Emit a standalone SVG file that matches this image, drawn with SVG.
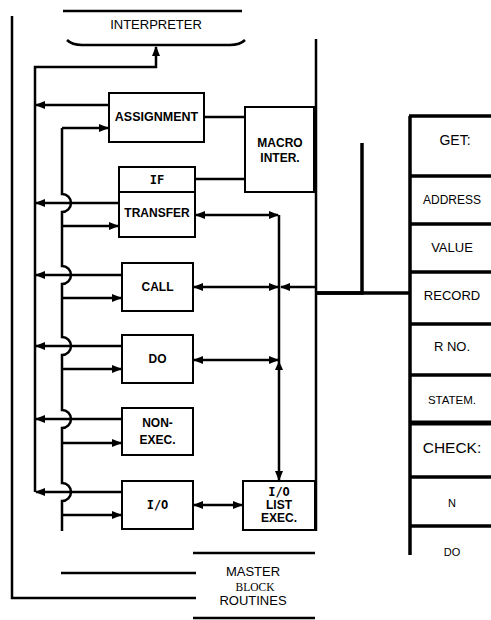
<svg xmlns="http://www.w3.org/2000/svg" width="491" height="620" viewBox="0 0 491 620">
<style>
.ln{fill:none;stroke:#000;stroke-width:2.5}
.th{fill:none;stroke:#000;stroke-width:3.5}
.bx{fill:#fff;stroke:#000;stroke-width:2}
.lb{font-family:"Liberation Sans",Arial,sans-serif;font-weight:bold;font-size:12px;text-anchor:middle;fill:#000}
.tw{font-family:"DejaVu Sans Mono","Liberation Mono",monospace;font-weight:bold;font-size:12px;text-anchor:middle;fill:#000}
.tx{font-family:"Liberation Sans",Arial,sans-serif;font-size:13px;text-anchor:middle;fill:#000}
</style>
<defs>
<marker id="ah" viewBox="0 0 10 8" refX="9" refY="4" markerWidth="10" markerHeight="8" markerUnits="userSpaceOnUse" orient="auto-start-reverse">
<path d="M0 0L10 4L0 8z" fill="#000"/>
</marker>
</defs>
<g id="frame">
<path class="ln" d="M12 16V598H196"/>
<path class="ln" d="M63 11H242"/>
<path class="ln" d="M67 40Q72 45 82 45H230Q240 45 245 40"/>
<path class="ln" d="M316 39V531"/>
<path class="ln" d="M193 553H315"/>
<path class="ln" d="M61 573H196"/>
<path class="ln" d="M193 618H315"/>
</g>
<g id="interpreter"><text class="tx" x="156" y="29">INTERPRETER</text></g>
<g id="master"><text class="tx" x="253" y="576">MASTER</text>
<text x="255" y="591" style="font-family:'Liberation Serif',serif;font-size:11.5px;text-anchor:middle">BLOCK</text>
<text class="tx" x="253" y="605">ROUTINES</text></g>
<g id="connectors">
<path class="ln" d="M35 492V67H156V47" marker-end="url(#ah)"/>
<path class="ln" d="M109 105H36" marker-end="url(#ah)"/>
<path class="ln" d="M119 203H36" marker-end="url(#ah)"/>
<path class="ln" d="M122 275H36" marker-end="url(#ah)"/>
<path class="ln" d="M122 346H36" marker-end="url(#ah)"/>
<path class="ln" d="M122 419H36" marker-end="url(#ah)"/>
<path class="ln" d="M122 492H36" marker-end="url(#ah)"/>
<path class="ln" d="M62 128V194A9 9 0 0 1 62 212V266A9 9 0 0 1 62 284V337A9 9 0 0 1 62 355V410A9 9 0 0 1 62 428V483A9 9 0 0 1 62 501V531"/>
<path class="ln" d="M62 128H108" marker-end="url(#ah)"/>
<path class="ln" d="M62 226H118" marker-end="url(#ah)"/>
<path class="ln" d="M62 298H121" marker-end="url(#ah)"/>
<path class="ln" d="M62 369H121" marker-end="url(#ah)"/>
<path class="ln" d="M62 443H121" marker-end="url(#ah)"/>
<path class="ln" d="M62 515H121" marker-end="url(#ah)"/>
<path class="ln" d="M204 117H245"/>
<path class="ln" d="M195 179H245"/>
<path class="ln" d="M196 215H278" marker-start="url(#ah)" marker-end="url(#ah)"/>
<path class="ln" d="M194 287H278" marker-start="url(#ah)" marker-end="url(#ah)"/>
<path class="ln" d="M194 360H278" marker-start="url(#ah)" marker-end="url(#ah)"/>
<path class="ln" d="M316 287H281" marker-end="url(#ah)"/>
<path class="ln" d="M279 215V480" marker-end="url(#ah)"/>
<path d="M279 361L283 370H275z" fill="#000"/>
<path class="ln" d="M194 505H242" marker-start="url(#ah)" marker-end="url(#ah)"/>
<path class="th" d="M362 143V293H316"/>
<path class="th" d="M316 293H410"/>
</g>
<g id="assignment"><rect class="bx" x="109" y="93" width="95" height="49"/><text class="lb" x="156.5" y="121" style="font-size:12.5px">ASSIGNMENT</text></g>
<g id="macro"><rect class="bx" x="245" y="107" width="69" height="85"/><text class="lb" x="280" y="147">MACRO</text><text class="lb" x="280" y="162">INTER.</text></g>
<g id="if-transfer"><rect class="bx" x="119" y="167" width="76" height="70"/><path class="ln" d="M119 192H195" style="stroke-width:2"/><text class="tw" x="157" y="184">IF</text><text class="lb" x="157" y="217">TRANSFER</text></g>
<g id="call"><rect class="bx" x="122" y="263" width="71" height="48"/><text class="lb" x="157.5" y="291">CALL</text></g>
<g id="do"><rect class="bx" x="122" y="335" width="71" height="48"/><text class="lb" x="157.5" y="363">DO</text></g>
<g id="nonexec"><rect class="bx" x="122" y="408" width="71" height="47"/><text class="lb" x="157.5" y="427">NON-</text><text class="lb" x="157.5" y="444">EXEC.</text></g>
<g id="io"><rect class="bx" x="122" y="481" width="71" height="48"/><text class="tw" x="157.5" y="509">I/O</text></g>
<g id="iolist"><rect class="bx" x="243" y="481" width="72" height="49"/><text class="tw" x="279" y="496">I/O</text><text class="lb" x="279" y="509">LIST</text><text class="lb" x="279" y="522">EXEC.</text></g>
<g id="table">
<path class="th" d="M410 116V555"/>
<path class="th" d="M409 116H491M410 176H491M410 224H491M410 272H491M410 324H491M410 375H491M410 477H491M410 526H491"/>
<path d="M410 423H491" stroke="#000" stroke-width="5"/>
<text class="tx" x="455" y="145" style="font-size:14px">GET:</text>
<text class="tx" x="452" y="204" style="font-size:12px">ADDRESS</text>
<text class="tx" x="452" y="252">VALUE</text>
<text class="tx" x="452" y="300">RECORD</text>
<text class="tx" x="452" y="351">R NO.</text>
<text class="tx" x="452" y="404" style="font-size:11.5px">STATEM.</text>
<text class="tx" x="452" y="453" style="font-size:15.5px">CHECK:</text>
<text class="tx" x="452" y="507" style="font-size:11px">N</text>
<text class="tx" x="452" y="556" style="font-size:11px">DO</text>
</g>
</svg>
